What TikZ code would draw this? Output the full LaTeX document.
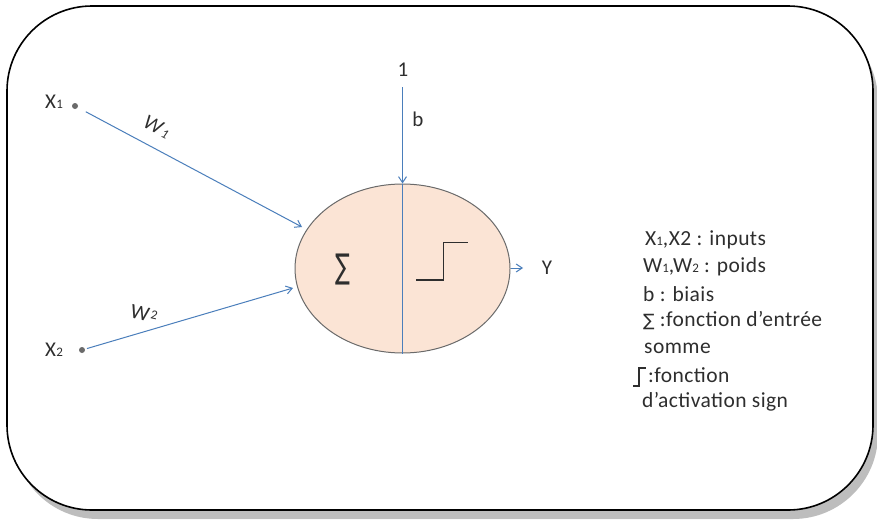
\documentclass[tikz,border=0pt]{standalone}
\usepackage{fontspec}
\setmainfont{Carlito}
\newfontfamily\symfont{DejaVu Sans}
\usetikzlibrary{arrows.meta,shapes.geometric}
\definecolor{arrowblue}{HTML}{4A7EBB}
\definecolor{peach}{HTML}{FBE4D5}
\definecolor{ink}{HTML}{2E2E2E}
\definecolor{edgegray}{HTML}{6A6A6A}
\definecolor{shadowgray}{HTML}{BDBDBD}
\newcommand{\smd}[1]{{\fontsize{13}{13}\selectfont #1}}
\tikzset{
  lbl/.style={font=\fontsize{21}{21}\selectfont, text=ink, inner sep=0pt},
  conn/.style={draw=arrowblue, line width=1pt, -{Straight Barb[length=6pt,width=8pt]}},
  inputdot/.style={circle, fill=edgegray, inner sep=0pt, minimum size=6pt},
  legend/.style={font=\addfontfeature{LetterSpace=2}\fontsize{21.5}{27}\selectfont, text=ink, inner sep=0pt, anchor=west},
}
\begin{document}
\begin{tikzpicture}[x=1pt,y=-1pt]
\useasboundingbox (0,0) rectangle (877,522);
% frame with shadow
\fill[shadowgray, rounded corners=85pt] (13,16) rectangle (878,519);
\draw[black, line width=1.6pt, fill=white, rounded corners=85pt] (7,6) rectangle (873,510);
% neuron
\node[ellipse, draw=edgegray, line width=1pt, fill=peach, minimum width=215pt, minimum height=169pt, inner sep=0pt] (neuron) at (402.5,268.5) {};
% inputs
\node[lbl] (x1) at (54,102) {X\kern0.5pt\smd{1}};
\node[inputdot] (x1d) at (75,106) {};
\node[lbl] (x2) at (54,350) {X\kern0.5pt\smd{2}};
\node[inputdot] (x2d) at (82,350) {};
\coordinate (in1) at (302,227);
\coordinate (in2) at (293,288);
\draw[conn, shorten <=9pt] (x1d) -- (in1);
\draw[conn, shorten <=2pt] (x2d) -- (in2);
\node[lbl, rotate=-27, font=\itshape\fontsize{21}{21}\selectfont] (w1) at (157,127) {W\kern2pt\smd{1}};
\node[lbl, rotate=-13] (w2) at (144,314) {W\kern1.5pt\raisebox{4pt}{\smd{2}}};
% bias
\node[lbl] (one) at (403,70) {1};
\node[lbl] (b) at (418,119) {b};
\draw[conn] (402.5,87) -- (neuron.north);
\draw[draw=arrowblue, line width=1pt] (neuron.north) -- (neuron.south);
% sum and step
\node[font=\symfont\fontsize{22}{22}\selectfont, text=ink, inner sep=0pt] (sum) at (343,270) {\scalebox{1.0}[1.55]{∑}};
\draw[ink, line width=1.6pt] (416,280) -- (443.5,280) -- (443.5,242.5) -- (468,242.5);
% output
\coordinate (outend) at (523,268);
\draw[conn] (neuron.east |- outend) -- (outend);
\node[lbl] (y) at (547,268) {Y};
% legend
\node[legend] (l1) at (645,240) {X\smd{1},X2 : inputs};
\node[legend] (l2) at (643,267) {W\smd{1},W\smd{2} : poids};
\node[legend] (l3) at (643,294) {b : biais};
\node[legend] (l4) at (643,321) {{\symfont\fontsize{17}{17}\selectfont ∑} :fonction d’entrée};
\node[legend] (l5) at (644,348) {somme};
\node[legend] (l6) at (648,375) {:fonction};
\draw[ink, line width=1.2pt] (633,386) -- (639,386) -- (639,368) -- (646,368);
\node[legend] (l7) at (642,402) {d’activation sign};
\end{tikzpicture}
\end{document}
